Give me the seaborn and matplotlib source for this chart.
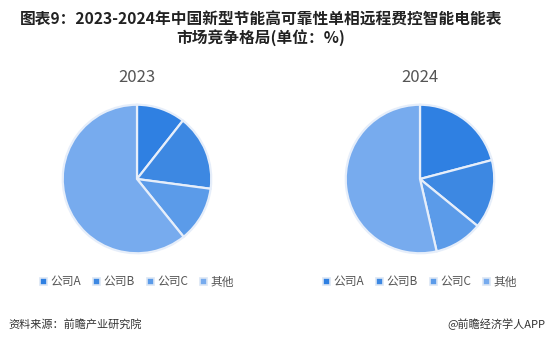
import matplotlib
matplotlib.use("Agg")
import matplotlib.pyplot as plt
import seaborn as sns
from matplotlib.patches import Patch

labels = ["公司A", "公司B", "公司C", "其他"]
years = ["2023", "2024"]
share_2023 = [10.6, 16.5, 12.1, 60.8]
share_2024 = [20.9, 15.0, 10.5, 53.6]
colors = ["#2f80e2", "#3d88e2", "#5b9be9", "#77abee"]

sns.set_theme(style="white")
plt.rcParams["font.family"] = ["Noto Sans CJK SC", "DejaVu Sans"]
palette = sns.color_palette(colors)

fig = plt.figure(figsize=(5.5, 3.51), dpi=100)
fig.patch.set_facecolor("white")

fig.text(261 / 550, 1 - 20 / 351, "图表9：2023-2024年中国新型节能高可靠性单相远程费控智能电能表",
         ha="center", va="center", fontsize=11.3, fontweight="bold", color="#222222")
fig.text(261 / 550, 1 - 38 / 351, "市场竞争格局(单位：%)",
         ha="center", va="center", fontsize=11.3, fontweight="bold", color="#222222")

centers = [137, 420]
r = 75
for cx, yr, vals in zip(centers, years, [share_2023, share_2024]):
    ax = fig.add_axes([(cx - r) / 550, (351 - 179 - r) / 351, 2 * r / 550, 2 * r / 351])
    ax.pie(vals, colors=palette, startangle=90, counterclock=False,
           wedgeprops=dict(edgecolor="#e6eefa", linewidth=1.6))
    ax.set_xlim(-1.01, 1.01)
    ax.set_ylim(-1.01, 1.01)
    ax.set_aspect("equal")
    ax.axis("off")
    fig.text(cx / 550, 1 - 77 / 351, yr, ha="center", va="center",
             fontsize=12, color="#555555")
    handles = [Patch(facecolor=c, edgecolor="#dbe6f5", linewidth=1.2) for c in palette]
    fig.legend(handles, labels, loc="center", ncol=4,
               bbox_to_anchor=(cx / 550, 1 - 282 / 351), frameon=False,
               fontsize=8.5, handlelength=0.6, handleheight=0.6,
               handletextpad=0.3, columnspacing=1.0, labelcolor="#555555")

fig.text(8 / 550, 1 - 324 / 351, "资料来源：前瞻产业研究院", ha="left", va="center",
         fontsize=8, color="#333333")
fig.text(545 / 550, 1 - 324 / 351, "@前瞻经济学人APP", ha="right", va="center",
         fontsize=8, color="#333333")

fig.savefig("out.png", dpi=100, facecolor="white")
